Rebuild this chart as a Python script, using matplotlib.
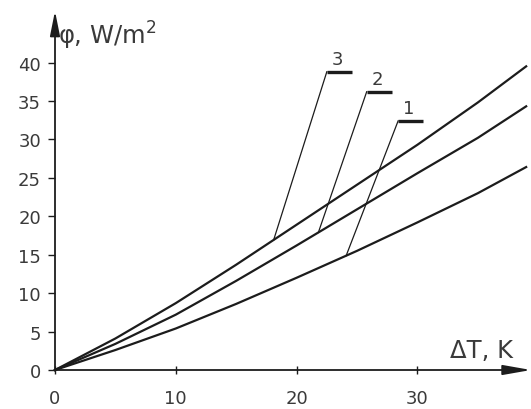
#%% Imports
import numpy as np
import matplotlib
matplotlib.use("Agg")
import matplotlib.pyplot as plt

#%% Data

dT = [0, 5, 10, 15, 20, 25, 30, 35, 39]                                 # K
phi_1 = [0, 2.6, 5.4, 8.6, 12.0, 15.5, 19.2, 23.0, 26.4]                # W/m2
phi_2 = [0, 3.4, 7.2, 11.6, 16.2, 20.9, 25.6, 30.2, 34.3]
phi_3 = [0, 4.1, 8.7, 13.7, 18.9, 24.1, 29.3, 34.8, 39.5]

curve_labels = ['1', '2', '3']
leader_foot_x = [24.1, 21.8, 18.1]     # where each leader touches its curve
leader_head = [(28.4, 32.4), (25.8, 36.2), (22.5, 38.8)]  # knee of each leader

y_ticks = [0, 5, 10, 15, 20, 25, 30, 35, 40]
x_ticks = [0, 10, 20, 30]

#%% Plot

plt.rcParams['font.family'] = ['DejaVu Sans']
ink = '#1c1c1c'
txt = '#3a3a3a'

fig = plt.figure(figsize=(5.31, 4.10), dpi=100)
ax = fig.add_axes([55 / 531, 39 / 410, 476 / 531, 359 / 410])
x_max, y_max = 39.4, 46.7
ax.set_xlim(0, x_max)
ax.set_ylim(0, y_max)

for s in ax.spines.values():
    s.set_visible(False)

# axes drawn as arrows
ax.annotate('', xy=(x_max, 0), xytext=(0, 0), annotation_clip=False,
            arrowprops=dict(arrowstyle='-|>,head_length=1.7,head_width=0.3',
                            lw=1.3, color=ink, shrinkA=0, shrinkB=0))
ax.annotate('', xy=(0, y_max), xytext=(0, 0), annotation_clip=False,
            arrowprops=dict(arrowstyle='-|>,head_length=1.5,head_width=0.3',
                            lw=1.3, color=ink, shrinkA=0, shrinkB=0))

series = [phi_1, phi_2, phi_3]
for phi in series:
    ax.plot(dT, phi, color=ink, lw=1.6, clip_on=False)

# numbered leaders
for lab, fx, (hx, hy), phi in zip(curve_labels, leader_foot_x, leader_head, series):
    fy = np.interp(fx, dT, phi)
    ax.plot([fx, hx], [fy, hy], color=ink, lw=0.9, clip_on=False)
    ax.plot([hx, hx + 2.1], [hy, hy], color=ink, lw=2.4, solid_capstyle='butt', clip_on=False)
    ax.text(hx + 0.9, hy + 0.5, lab, fontsize=13, color=txt, ha='center', va='bottom')

ax.set_yticks(y_ticks)
ax.set_xticks(x_ticks)
ax.tick_params(axis='y', direction='out', length=5, width=1, pad=5,
               labelsize=13, colors=ink, labelcolor=txt)
ax.tick_params(axis='x', direction='inout', length=6, width=1, pad=11,
               labelsize=13, colors=ink, labelcolor=txt)

ax.text(0.25, 42.4, r'φ, W/m$^2$', fontsize=17.5, color=txt, va='baseline', ha='left')
ax.text(37.9, 1.7, 'ΔT, K', fontsize=17.5, color=txt, va='baseline', ha='right')

plt.savefig('out.png', dpi=100)
